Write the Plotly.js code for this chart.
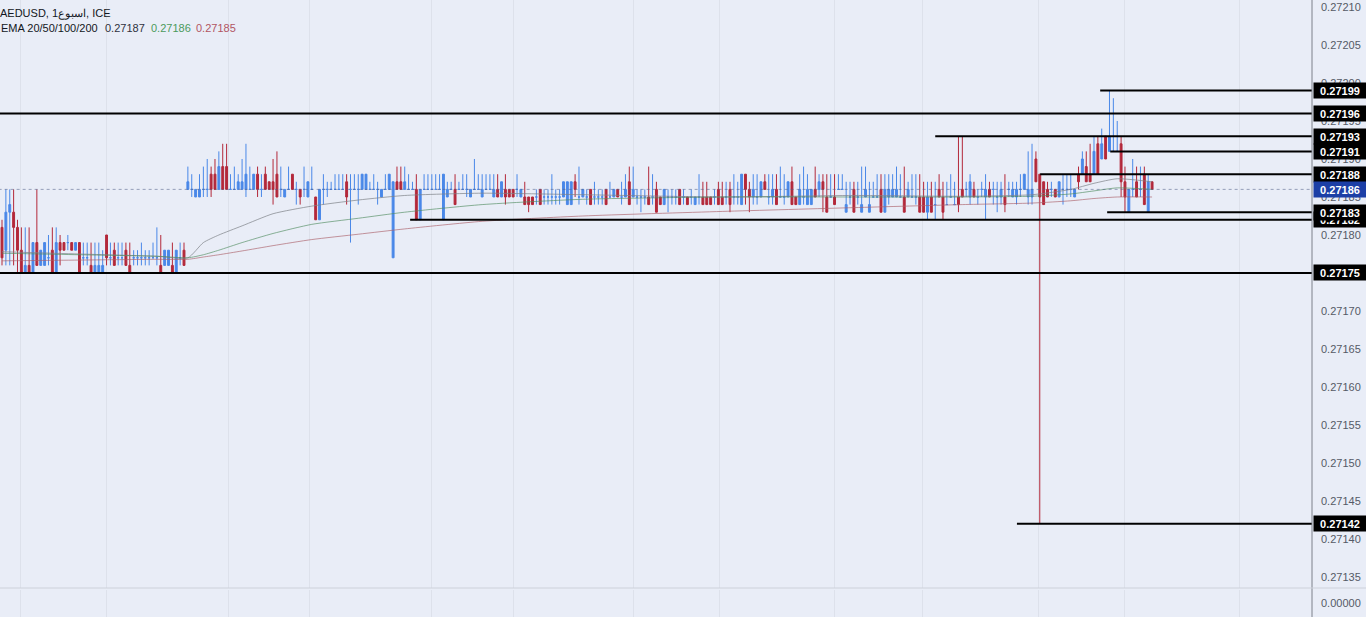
<!DOCTYPE html>
<html><head><meta charset="utf-8">
<script src="https://cdn.plot.ly/plotly-3.0.1.min.js"></script>
<style>html,body{margin:0;padding:0;background:#e9edf7;overflow:hidden}#chart{width:1366px;height:617px}</style>
</head><body><div id="chart"></div>
<script>
// ---- weekly candles (AEDUSD, ICE), oldest first ----
const openP = [
0.27181,0.27178,0.27183,0.27183,0.27181,0.27178,0.27175,0.27176,0.27175,0.27179,
0.27176,0.27176,0.27177,0.27178,0.27175,0.27179,0.27179,0.27179,0.27179,0.27178,
0.27179,0.27177,0.27177,0.27176,0.27175,0.27175,0.27175,0.27180,0.27177,0.27178,
0.27177,0.27177,0.27178,0.27176,0.27177,0.27177,0.27177,0.27177,0.27177,0.27177,
0.27177,0.27176,0.27176,0.27176,0.27176,0.27175,0.27177,0.27178,
0.27186,0.27186,0.27185,0.27185,0.27186,0.27186,0.27188,0.27188,0.27186,0.27189,
0.27189,0.27186,0.27186,0.27186,
0.27186,0.27186,0.27186,0.27186,0.27188,0.27186,0.27188,0.27187,0.27187,0.27188,
0.27186,0.27185,0.27186,0.27188,0.27186,0.27186,0.27186,0.27185,0.27186,0.27185,
0.27182,0.27186,0.27186,0.27186,0.27186,0.27186,0.27186,0.27187,0.27186,0.27186,
0.27186,0.27186,0.27186,0.27186,0.27186,0.27186,0.27185,0.27186,0.27186,0.27177,
0.27187,0.27187,0.27186,0.27186,0.27186,0.27186,0.27182,0.27186,0.27186,0.27186,
0.27186,0.27186,0.27182,0.27185,0.27186,0.27186,0.27186,0.27186,0.27186,0.27185,0.27186,0.27186,
0.27185,0.27186,0.27186,0.27185,0.27186,0.27185,0.27186,0.27186,0.27186,0.27186,
0.27185,0.27185,0.27185,0.27185,0.27185,0.27186,0.27185,0.27185,0.27185,0.27185,
0.27185,0.27185,0.27184,0.27184,0.27187,0.27185,0.27185,0.27185,0.27186,0.27185,
0.27185,0.27185,0.27186,0.27185,0.27185,0.27186,0.27185,0.27185,0.27187,0.27185,
0.27185,0.27185,0.27185,0.27185,0.27185,0.27186,0.27185,0.27184,0.27185,0.27185,
0.27185,0.27186,0.27185,0.27185,0.27185,0.27184,0.27185,0.27185,0.27185,0.27185,0.27185,0.27186,
0.27185,0.27185,0.27186,0.27185,0.27185,0.27184,0.27188,0.27186,0.27185,0.27185,
0.27185,0.27187,0.27185,0.27185,0.27186,0.27185,0.27185,0.27185,0.27187,0.27185,
0.27184,0.27185,0.27184,0.27184,0.27186,0.27186,0.27187,0.27185,0.27185,0.27185,
0.27186,0.27186,0.27183,0.27185,0.27186,0.27185,0.27183,0.27185,0.27183,0.27185,
0.27185,0.27186,0.27183,0.27185,0.27185,0.27185,0.27185,0.27185,0.27185,0.27185,
0.27185,0.27185,0.27185,0.27183,0.27185,0.27184,0.27186,0.27185,0.27184,0.27185,0.27184,0.27185,
0.27186,0.27186,0.27185,0.27186,0.27185,0.27186,0.27185,0.27186,0.27186,0.27185,
0.27185,0.27185,0.27186,0.27185,0.27185,0.27186,0.27186,0.27185,0.27185,0.27190,
0.27188,0.27187,0.27186,0.27186,0.27186,0.27185,0.27186,0.27186,0.27186,0.27185,
0.27188,0.27188,0.27189,0.27188,0.27188,0.27192,0.27190,0.27193,0.27191,0.27191,
0.27191,0.27192,0.27187,0.27183,0.27186,0.27187,0.27186,0.27188,0.27183,0.27187];
const highP = [
0.27182,0.27186,0.27186,0.27186,0.27182,0.27181,0.27181,0.27181,0.27179,0.27186,
0.27178,0.27179,0.27180,0.27181,0.27181,0.27180,0.27179,0.27180,0.27179,0.27179,
0.27179,0.27179,0.27179,0.27179,0.27179,0.27179,0.27178,0.27180,0.27179,0.27179,
0.27179,0.27179,0.27179,0.27179,0.27178,0.27178,0.27179,0.27178,0.27178,0.27179,
0.27181,0.27180,0.27178,0.27178,0.27179,0.27178,0.27179,0.27179,
0.27189,0.27188,0.27186,0.27188,0.27189,0.27190,0.27189,0.27190,0.27191,0.27192,
0.27192,0.27188,0.27189,0.27188,
0.27190,0.27192,0.27189,0.27188,0.27189,0.27188,0.27189,0.27187,0.27190,0.27191,
0.27189,0.27186,0.27189,0.27188,0.27187,0.27186,0.27189,0.27187,0.27189,0.27185,
0.27186,0.27188,0.27187,0.27187,0.27188,0.27188,0.27188,0.27188,0.27188,0.27188,
0.27188,0.27188,0.27188,0.27187,0.27188,0.27187,0.27186,0.27188,0.27188,0.27187,
0.27189,0.27189,0.27189,0.27188,0.27187,0.27188,0.27186,0.27188,0.27188,0.27188,
0.27188,0.27188,0.27188,0.27187,0.27187,0.27188,0.27187,0.27188,0.27188,0.27186,0.27190,0.27188,
0.27188,0.27188,0.27188,0.27188,0.27188,0.27187,0.27188,0.27186,0.27186,0.27188,
0.27186,0.27187,0.27185,0.27185,0.27186,0.27186,0.27186,0.27186,0.27188,0.27186,
0.27186,0.27187,0.27187,0.27187,0.27188,0.27189,0.27186,0.27186,0.27186,0.27187,
0.27186,0.27186,0.27186,0.27187,0.27186,0.27186,0.27187,0.27188,0.27189,0.27189,
0.27186,0.27186,0.27186,0.27189,0.27188,0.27187,0.27185,0.27186,0.27186,0.27186,
0.27186,0.27186,0.27186,0.27185,0.27186,0.27185,0.27188,0.27187,0.27187,0.27185,0.27186,0.27187,
0.27187,0.27187,0.27187,0.27188,0.27187,0.27188,0.27188,0.27187,0.27188,0.27188,
0.27187,0.27188,0.27188,0.27188,0.27188,0.27189,0.27188,0.27187,0.27189,0.27185,
0.27188,0.27189,0.27188,0.27186,0.27189,0.27188,0.27188,0.27188,0.27188,0.27188,
0.27188,0.27188,0.27187,0.27187,0.27187,0.27187,0.27189,0.27189,0.27187,0.27187,
0.27188,0.27188,0.27188,0.27188,0.27188,0.27189,0.27188,0.27189,0.27187,0.27188,
0.27188,0.27188,0.27187,0.27187,0.27187,0.27187,0.27188,0.27187,0.27187,0.27188,0.27187,0.27193,
0.27193,0.27187,0.27188,0.27187,0.27186,0.27187,0.27188,0.27187,0.27187,0.27187,
0.27187,0.27188,0.27187,0.27187,0.27187,0.27188,0.27188,0.27191,0.27192,0.27191,
0.27188,0.27187,0.27187,0.27187,0.27186,0.27187,0.27188,0.27188,0.27188,0.27186,
0.27189,0.27191,0.27191,0.27192,0.27193,0.27193,0.27194,0.27193,0.27199,0.27198,
0.27195,0.27193,0.27189,0.27186,0.27190,0.27189,0.27189,0.27189,0.27188,0.27187];
const lowP = [
0.27176,0.27176,0.27176,0.27176,0.27175,0.27175,0.27175,0.27175,0.27175,0.27176,
0.27176,0.27176,0.27176,0.27175,0.27175,0.27176,0.27178,0.27178,0.27178,0.27178,
0.27175,0.27176,0.27176,0.27175,0.27175,0.27175,0.27175,0.27176,0.27176,0.27176,
0.27176,0.27176,0.27176,0.27175,0.27176,0.27176,0.27176,0.27176,0.27176,0.27177,
0.27176,0.27175,0.27176,0.27176,0.27175,0.27175,0.27176,0.27176,
0.27186,0.27185,0.27185,0.27185,0.27185,0.27185,0.27185,0.27186,0.27186,0.27186,
0.27186,0.27186,0.27186,0.27186,
0.27186,0.27185,0.27186,0.27186,0.27185,0.27185,0.27186,0.27186,0.27184,0.27185,
0.27185,0.27185,0.27186,0.27186,0.27184,0.27184,0.27185,0.27185,0.27186,0.27182,
0.27182,0.27184,0.27185,0.27186,0.27186,0.27186,0.27186,0.27184,0.27179,0.27186,
0.27184,0.27186,0.27186,0.27186,0.27186,0.27184,0.27185,0.27186,0.27186,0.27177,
0.27186,0.27186,0.27186,0.27186,0.27186,0.27182,0.27182,0.27186,0.27186,0.27186,
0.27186,0.27186,0.27182,0.27185,0.27186,0.27184,0.27186,0.27186,0.27185,0.27185,0.27186,0.27186,
0.27185,0.27186,0.27186,0.27185,0.27185,0.27185,0.27184,0.27185,0.27185,0.27185,
0.27185,0.27184,0.27183,0.27184,0.27184,0.27184,0.27184,0.27184,0.27184,0.27184,
0.27184,0.27185,0.27184,0.27184,0.27185,0.27184,0.27185,0.27184,0.27184,0.27184,
0.27184,0.27184,0.27184,0.27185,0.27185,0.27185,0.27184,0.27185,0.27184,0.27185,
0.27184,0.27183,0.27184,0.27184,0.27184,0.27183,0.27184,0.27184,0.27183,0.27184,
0.27184,0.27184,0.27184,0.27184,0.27184,0.27184,0.27184,0.27184,0.27184,0.27184,0.27184,0.27184,
0.27184,0.27184,0.27183,0.27184,0.27184,0.27184,0.27184,0.27183,0.27184,0.27184,
0.27185,0.27186,0.27184,0.27184,0.27184,0.27185,0.27184,0.27185,0.27184,0.27184,
0.27184,0.27184,0.27184,0.27184,0.27185,0.27185,0.27183,0.27183,0.27185,0.27184,
0.27186,0.27186,0.27183,0.27184,0.27183,0.27184,0.27183,0.27185,0.27183,0.27185,
0.27185,0.27183,0.27183,0.27184,0.27185,0.27185,0.27185,0.27183,0.27185,0.27185,
0.27184,0.27183,0.27183,0.27182,0.27183,0.27182,0.27185,0.27182,0.27184,0.27185,0.27184,0.27183,
0.27185,0.27185,0.27184,0.27185,0.27184,0.27185,0.27182,0.27185,0.27184,0.27183,
0.27184,0.27183,0.27185,0.27185,0.27184,0.27185,0.27186,0.27184,0.27184,0.27187,
0.27142,0.27184,0.27185,0.27185,0.27185,0.27185,0.27184,0.27185,0.27185,0.27185,
0.27186,0.27188,0.27187,0.27187,0.27188,0.27188,0.27190,0.27190,0.27191,0.27191,
0.27191,0.27185,0.27183,0.27183,0.27185,0.27185,0.27185,0.27184,0.27183,0.27186];
const closeP = [
0.27177,0.27183,0.27184,0.27181,0.27178,0.27175,0.27176,0.27175,0.27179,0.27176,
0.27178,0.27179,0.27177,0.27175,0.27179,0.27178,0.27178,0.27179,0.27178,0.27179,
0.27175,0.27177,0.27177,0.27175,0.27176,0.27176,0.27176,0.27177,0.27177,0.27176,
0.27177,0.27177,0.27176,0.27175,0.27177,0.27177,0.27177,0.27177,0.27177,0.27177,
0.27177,0.27175,0.27178,0.27178,0.27175,0.27178,0.27177,0.27176,
0.27187,0.27186,0.27186,0.27186,0.27186,0.27186,0.27186,0.27186,0.27189,0.27186,
0.27186,0.27186,0.27186,0.27187,
0.27187,0.27188,0.27186,0.27188,0.27186,0.27186,0.27186,0.27186,0.27186,0.27185,
0.27186,0.27186,0.27186,0.27186,0.27186,0.27185,0.27186,0.27187,0.27186,0.27182,
0.27186,0.27186,0.27186,0.27186,0.27186,0.27186,0.27186,0.27185,0.27186,0.27186,
0.27186,0.27188,0.27188,0.27186,0.27186,0.27186,0.27186,0.27186,0.27188,0.27187,
0.27186,0.27186,0.27187,0.27186,0.27186,0.27182,0.27186,0.27186,0.27186,0.27186,
0.27186,0.27186,0.27188,0.27186,0.27186,0.27184,0.27186,0.27186,0.27186,0.27186,0.27186,0.27186,
0.27186,0.27186,0.27186,0.27186,0.27185,0.27187,0.27185,0.27185,0.27185,0.27186,
0.27186,0.27184,0.27184,0.27184,0.27185,0.27184,0.27185,0.27185,0.27185,0.27185,
0.27185,0.27187,0.27187,0.27187,0.27186,0.27185,0.27186,0.27185,0.27184,0.27185,
0.27185,0.27185,0.27184,0.27185,0.27186,0.27185,0.27185,0.27186,0.27184,0.27186,
0.27185,0.27185,0.27185,0.27184,0.27185,0.27183,0.27184,0.27186,0.27185,0.27185,
0.27185,0.27184,0.27185,0.27184,0.27185,0.27185,0.27185,0.27184,0.27184,0.27184,0.27185,0.27184,
0.27184,0.27185,0.27184,0.27185,0.27185,0.27188,0.27186,0.27185,0.27186,0.27185,
0.27187,0.27186,0.27185,0.27186,0.27184,0.27185,0.27185,0.27187,0.27184,0.27184,
0.27186,0.27185,0.27186,0.27186,0.27185,0.27187,0.27186,0.27183,0.27185,0.27184,
0.27186,0.27186,0.27184,0.27185,0.27183,0.27185,0.27184,0.27186,0.27184,0.27185,
0.27185,0.27183,0.27186,0.27186,0.27186,0.27186,0.27185,0.27183,0.27186,0.27185,
0.27185,0.27183,0.27183,0.27185,0.27183,0.27184,0.27185,0.27183,0.27184,0.27185,0.27184,0.27184,
0.27185,0.27186,0.27187,0.27185,0.27185,0.27186,0.27186,0.27185,0.27186,0.27185,
0.27186,0.27184,0.27186,0.27186,0.27186,0.27186,0.27188,0.27186,0.27186,0.27187,
0.27185,0.27184,0.27185,0.27186,0.27185,0.27187,0.27186,0.27186,0.27186,0.27186,
0.27187,0.27190,0.27187,0.27187,0.27191,0.27188,0.27192,0.27190,0.27193,0.27191,
0.27191,0.27187,0.27185,0.27186,0.27186,0.27185,0.27186,0.27184,0.27187,0.27186];

// ---- EMA 20 / 50 / 100 read at selected candles ----
const emaIdx = [0, 20, 40, 48, 52, 56, 62, 70, 80, 92, 104, 124, 150, 186, 220, 248, 266, 276, 282, 288, 297];
const ema20  = [0.271778,0.271775,0.271772,0.271770,0.271790,0.271800,0.271812,0.271828,0.271838,0.271846,0.271852,0.271855,0.271853,0.271850,0.271852,0.271851,0.271853,0.271860,0.271868,0.271874,0.271870];
const ema50  = [0.271776,0.271774,0.271772,0.271770,0.271774,0.271780,0.271790,0.271802,0.271814,0.271822,0.271830,0.271840,0.271847,0.271850,0.271850,0.271850,0.271851,0.271854,0.271858,0.271862,0.271860];
const ema100 = [0.271766,0.271767,0.271768,0.271768,0.271771,0.271774,0.271779,0.271786,0.271794,0.271801,0.271808,0.271818,0.271825,0.271831,0.271836,0.271840,0.271842,0.271845,0.271848,0.271850,0.271850];

// ---- drawn horizontal levels (price, first candle index) ----
const levelPrices = [0.27199, 0.27196, 0.27193, 0.27191, 0.27188, 0.27182, 0.27183, 0.27175, 0.27142];
const levelStarts = [283.6, -5, 241, 286.2, 268.1, 105.4, 285.4, -5, 262.1];

// ---- axes ----
const priceTicks = [0.27135,0.27140,0.27145,0.27150,0.27155,0.27160,0.27165,0.27170,0.27175,0.27180,0.27185,0.27190,0.27195,0.27200,0.27205,0.27210];
const timeGridIdx = [4.9, 27.1, 58.4, 79.5, 110.8, 132.0, 163.2, 185.4, 215.1, 237.6, 267.6, 289.8, 319.7];
const symbolTitle = 'AEDUSD, 1اسبوع, ICE';
const emaTitle = 'EMA 20/50/100/200';

// ---- build ----
const W = 1366, H = 617, AXIS_X = 1312, PANE_BOTTOM = 588;
const BG = '#e9edf7', UP = '#4a88e8', DN = '#b3283a';
const xRange = [-0.517, 338.3];
const idxAll = openP.map((_, i) => i);
const upIdx = idxAll.filter(i => closeP[i] >= openP[i]);
const dnIdx = idxAll.filter(i => closeP[i] < openP[i]);
const pick = (a, ids) => ids.map(i => a[i]);
function candles(ids, color) {
  const st = {line: {color: color, width: 1}, fillcolor: color};
  return {type: 'candlestick', x: ids, open: pick(openP, ids), high: pick(highP, ids),
    low: pick(lowP, ids), close: pick(closeP, ids), increasing: st, decreasing: st,
    hoverinfo: 'skip', showlegend: false, xaxis: 'x', yaxis: 'y'};
}
function emaLine(vals, color) {
  return {type: 'scatter', mode: 'lines', x: emaIdx, y: vals, line: {color: color, width: 1, shape: 'spline', smoothing: 0.6},
    hoverinfo: 'skip', showlegend: false, xaxis: 'x', yaxis: 'y'};
}
const EMA_COLORS = ['rgba(125,130,135,0.7)', 'rgba(80,140,95,0.65)', 'rgba(170,95,105,0.65)'];
const data = [
  candles(upIdx, UP), candles(dnIdx, DN),
  emaLine(ema20, EMA_COLORS[0]), emaLine(ema50, EMA_COLORS[1]), emaLine(ema100, EMA_COLORS[2]),
  {type: 'scatter', x: [], y: [], xaxis: 'x', yaxis: 'y2', showlegend: false}
];

const lastClose = closeP[closeP.length - 1];
const shapes = [];
levelPrices.forEach((p, k) => shapes.push({type: 'line', xref: 'x', yref: 'y', x0: levelStarts[k], x1: xRange[1] + 10, y0: p, y1: p, line: {color: '#000', width: 2}}));
shapes.push({type: 'line', xref: 'x', yref: 'y', x0: xRange[0] - 5, x1: xRange[1] + 10, y0: lastClose, y1: lastClose, line: {color: 'rgba(80,95,135,0.55)', width: 1, dash: 'dot'}});
shapes.push({type: 'line', xref: 'paper', yref: 'paper', x0: AXIS_X / W, x1: AXIS_X / W, y0: 0, y1: 1, line: {color: '#7c808a', width: 1}});
shapes.push({type: 'line', xref: 'paper', yref: 'paper', x0: 0, x1: 1, y0: (H - PANE_BOTTOM) / H, y1: (H - PANE_BOTTOM) / H, line: {color: '#cdd1da', width: 1}});

const FONT = 'Liberation Sans, Arial, sans-serif';
const annotations = [];
function priceBox(p, bg) {
  return {xref: 'paper', yref: 'y', x: (AXIS_X + 1) / W, y: p, xanchor: 'left', yanchor: 'middle',
    text: '<b>' + p.toFixed(5) + '</b>', showarrow: false, bgcolor: bg, borderpad: 2, width: 48, height: 11,
    align: 'center', font: {family: FONT, size: 11, color: '#ffffff'}};
}
levelPrices.forEach(p => annotations.push(priceBox(p, '#000000')));
annotations.push(priceBox(lastClose, '#1c3fa6'));
function label(txt, px, py, color) {
  return {xref: 'paper', yref: 'paper', x: px / W, y: 1 - py / H, xanchor: 'left', yanchor: 'middle',
    text: txt, showarrow: false, font: {family: FONT, size: 11, color: color}};
}
annotations.push(label(symbolTitle, -2, 13, '#131722'));
annotations.push(label(emaTitle, -1, 28, '#131722'));
annotations.push(label(ema20[ema20.length - 1].toFixed(5), 103, 28, '#2f3240'));
annotations.push(label(ema50[ema50.length - 1].toFixed(5), 149, 28, '#4c9a5c'));
annotations.push(label(ema100[ema100.length - 1].toFixed(5), 194, 28, '#b25563'));

const layout = {
  width: W, height: H, margin: {l: 0, r: 0, t: 0, b: 0},
  paper_bgcolor: BG, plot_bgcolor: BG, showlegend: false,
  boxgap: 0.3, boxgroupgap: 0.3,
  xaxis: {domain: [0, AXIS_X / W], range: xRange, rangeslider: {visible: false}, tickmode: 'array', tickvals: timeGridIdx,
    showticklabels: false, ticks: '', showgrid: true, gridcolor: '#dde1eb', gridwidth: 1, zeroline: false, showline: false, fixedrange: true},
  yaxis: {domain: [(H - PANE_BOTTOM) / H, 1], range: [0.2713355, 0.2721092], side: 'right', anchor: 'x', tickmode: 'array',
    tickvals: priceTicks, ticktext: priceTicks.map(v => v.toFixed(5)), ticks: '', ticklabelstandoff: 8,
    tickfont: {family: FONT, size: 11, color: '#555a66'}, showgrid: false, zeroline: false, showline: false, fixedrange: true},
  yaxis2: {domain: [0, (H - PANE_BOTTOM - 2) / H], range: [-1, 1], side: 'right', anchor: 'x', tickmode: 'array',
    tickvals: [0], ticktext: [(0).toFixed(5)], ticks: '', ticklabelstandoff: 8,
    tickfont: {family: FONT, size: 11, color: '#555a66'}, showgrid: false, zeroline: false, showline: false, fixedrange: true},
  shapes: shapes, annotations: annotations
};
Plotly.newPlot('chart', data, layout, {staticPlot: true, displayModeBar: false});
</script></body></html>
